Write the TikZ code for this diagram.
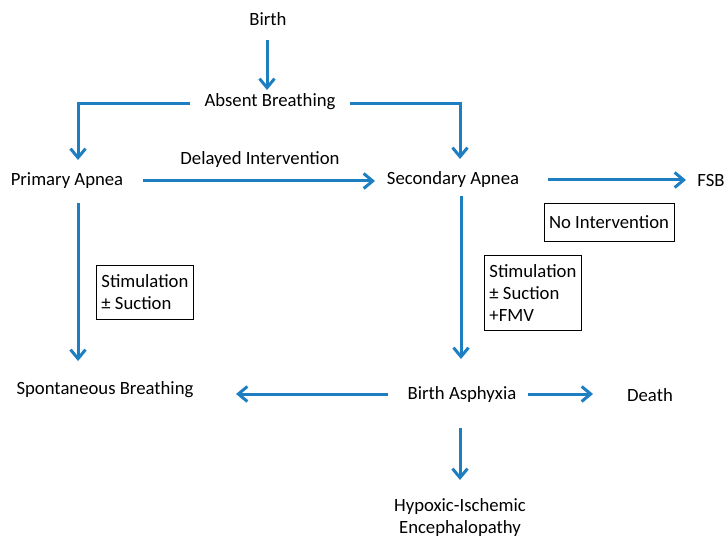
\documentclass[tikz,border=0pt]{standalone}
\usepackage{fontspec}
\setmainfont{Carlito}
\usetikzlibrary{arrows.meta}
\definecolor{fblue}{RGB}{30,126,194}
\begin{document}
\begin{tikzpicture}[x=1pt,y=-1pt,
  lbl/.style={inner sep=0pt,font=\fontsize{18.7}{22}\selectfont},
  box/.style={draw=black,line width=0.9pt,inner sep=5pt,align=left,font=\fontsize{18.7}{22}\selectfont},
  conn/.style={draw=fblue,line width=3pt,-{Straight Barb[length=9pt,width=15pt,line width=3pt]}},
  plain/.style={draw=fblue,line width=3pt}]
\useasboundingbox (0,0) rectangle (725,537);
\node[lbl] (birth) at (268,19) {Birth};
\node[lbl] (absent) at (270,102) {Absent Breathing};
\node[lbl] (primary) at (67,181) {Primary Apnea};
\node[lbl] (secondary) at (453,180) {Secondary Apnea};
\node[lbl] (fsb) at (711,180) {FSB};
\node[lbl] (delayed) at (260,160) {Delayed Intervention};
\node[lbl] (spont) at (105,390) {Spontaneous Breathing};
\node[lbl] (asph) at (462,395) {Birth Asphyxia};
\node[lbl] (death) at (650,395) {Death};
\node[lbl,align=center] (hie) at (460,518) {Hypoxic-Ischemic\\Encephalopathy};
\node[box,minimum width=122pt,minimum height=38pt,align=center] (noint) at (609,222) {No Intervention};
\node[box,minimum width=96pt,minimum height=54pt,anchor=north west] (stim1) at (96,265) {Stimulation\\± Suction};
\node[box,minimum width=96pt,minimum height=75pt,anchor=north west] (stim2) at (484,255) {Stimulation\\± Suction\\+FMV};
% connectors
\coordinate (b1) at (267,40);
\coordinate (b2) at (267,90);
\draw[conn] (b1) -- (b2);
\coordinate (al) at (190,104);
\coordinate (alc) at (78,104);
\coordinate (alt) at (78,160);
\draw[conn] (al) -- (alc) -- (alt);
\coordinate (ar) at (350,104);
\coordinate (arc) at (460,104);
\coordinate (art) at (460,159);
\draw[conn] (ar) -- (arc) -- (art);
\coordinate (d1) at (143,181);
\coordinate (d2) at (375,181);
\draw[conn] (d1) -- (d2);
\coordinate (f1) at (548,180);
\coordinate (f2) at (686,180);
\draw[conn] (f1) -- (f2);
\coordinate (s1) at (461,196);
\coordinate (s2) at (461,359);
\draw[conn] (s1) -- (s2);
\coordinate (p1) at (78,203);
\coordinate (p2) at (78,361);
\draw[conn] (p1) -- (p2);
\coordinate (a1) at (388,394);
\coordinate (a2) at (236,394);
\draw[conn] (a1) -- (a2);
\coordinate (e1) at (528,394);
\coordinate (e2) at (593,394);
\draw[conn] (e1) -- (e2);
\coordinate (h1) at (460,428);
\coordinate (h2) at (460,480);
\draw[conn] (h1) -- (h2);
\end{tikzpicture}
\end{document}
